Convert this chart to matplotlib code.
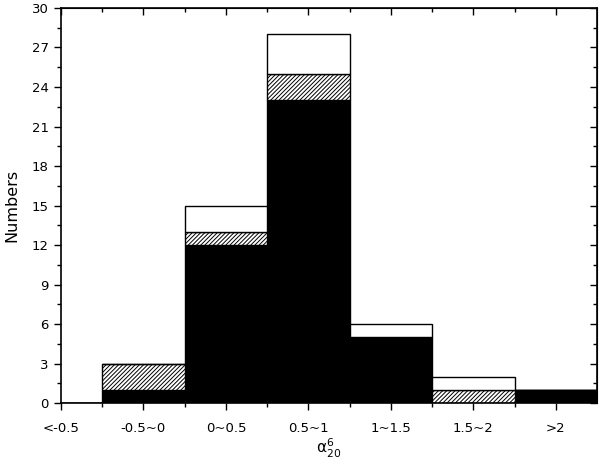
import matplotlib
matplotlib.use('Agg')
import matplotlib.pyplot as plt
import numpy as np

categories = ['<-0.5', '-0.5~0', '0~0.5', '0.5~1', '1~1.5', '1.5~2', '>2']
black_counts = [0, 1, 12, 23, 5, 0, 1]
hatched_counts = [0, 2, 1, 2, 0, 1, 0]
white_counts = [0, 0, 2, 3, 1, 1, 0]


def plot_hist():
    plt.rcParams['hatch.linewidth'] = 0.7
    plt.rcParams['font.size'] = 9.5

    fig = plt.figure(figsize=(6, 4.65), dpi=100)
    ax = fig.add_axes([0.1017, 0.1333, 0.8933, 0.8495])

    x = np.arange(len(categories))
    b1 = np.array(black_counts)
    b2 = b1 + np.array(hatched_counts)

    ax.bar(x, black_counts, width=1.0, color='black', edgecolor='black', linewidth=1)
    ax.bar(x, hatched_counts, width=1.0, bottom=b1, color='white', edgecolor='black',
           hatch='/' * 8, linewidth=1)
    ax.bar(x, white_counts, width=1.0, bottom=b2, color='white', edgecolor='black', linewidth=1)

    ax.set_xlim(0, 6.5)
    ax.set_ylim(0, 30)
    ax.set_xticks(x)
    ax.set_xticklabels(categories)
    ax.set_xticks(x[:-1] + 0.5, minor=True)
    ax.set_yticks(np.arange(0, 31, 3))
    ax.set_yticks(np.arange(1.5, 30, 3), minor=True)

    ax.tick_params(which='major', direction='out', length=5, width=1)
    ax.tick_params(which='minor', direction='out', length=3, width=1)
    ax.tick_params(axis='x', which='major', pad=9)
    ax.tick_params(axis='y', which='major', pad=4)
    for s in ax.spines.values():
        s.set_linewidth(1.2)

    top = ax.secondary_xaxis('top')
    top.set_xticks(x)
    top.set_xticks(x[:-1] + 0.5, minor=True)
    top.tick_params(which='major', direction='in', length=5, width=1, labeltop=False)
    top.tick_params(which='minor', direction='in', length=3, width=1)

    right = ax.secondary_yaxis('right')
    right.set_yticks(np.arange(0, 31, 3))
    right.set_yticks(np.arange(1.5, 30, 3), minor=True)
    right.tick_params(which='major', direction='in', length=5, width=1, labelright=False)
    right.tick_params(which='minor', direction='in', length=3, width=1)

    ax.set_xlabel(r'$\mathregular{\alpha^{6}_{20}}$', fontsize=11, labelpad=1)
    ax.set_ylabel('Numbers', fontsize=11.5, labelpad=9)

    fig.savefig('out.png', dpi=100)


if __name__ == '__main__':
    plot_hist()
